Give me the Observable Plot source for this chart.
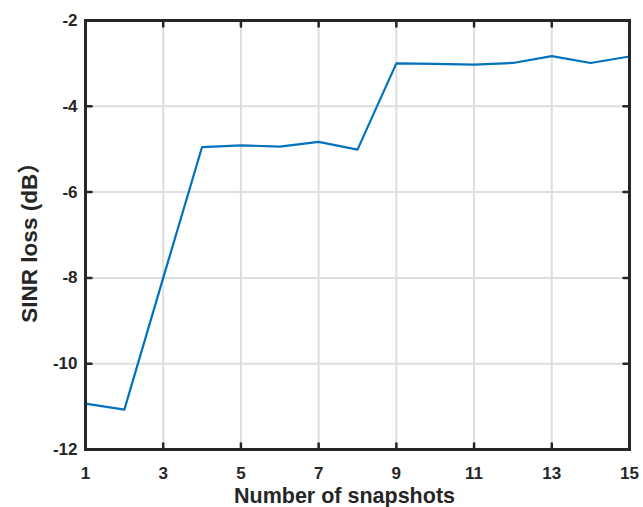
<!DOCTYPE html>
<html>
<head>
<meta charset="utf-8">
<script src="https://cdn.jsdelivr.net/npm/d3@7"></script>
<script src="https://cdn.jsdelivr.net/npm/@observablehq/plot@0.6"></script>
<style>
  html, body { margin: 0; padding: 0; background: #fff; }
</style>
</head>
<body>
<div id="chart"></div>
<script>
const snapshots = [1, 2, 3, 4, 5, 6, 7, 8, 9, 10, 11, 12, 13, 14, 15];
const sinrLoss = [-10.93, -11.07, -8.0, -4.95, -4.91, -4.94, -4.83, -5.01, -3.0, -3.01, -3.03, -2.99, -2.83, -2.99, -2.84];
const xTicks = [1, 3, 5, 7, 9, 11, 13, 15];
const yTicks = [-12, -10, -8, -6, -4, -2];
const xLabel = "Number of snapshots";
const yLabel = "SINR loss (dB）";

const data = snapshots.map((s, i) => ({ s, v: sinrLoss[i] }));
const ink = "#262626";
const font = "'Liberation Sans', Arial, 'Noto Sans CJK SC', sans-serif";
const fmt = d => String(d);
const stub = { draw(context, l) { context.moveTo(0, 0); context.lineTo(0, -l); } };
const tickStyle = { length: 6, anchor: "start", shape: stub, stroke: ink, strokeWidth: 2.5 };

const chart = Plot.plot({
  width: 643,
  height: 507,
  marginLeft: 85,
  marginRight: 14,
  marginTop: 20,
  marginBottom: 58,
  x: { domain: [1, 15] },
  y: { domain: [-12, -2] },
  style: { fontFamily: font, fontWeight: "bold", fontSize: "17px", color: ink, background: "#fff" },
  marks: [
    Plot.gridX(xTicks, { stroke: "#dedede", strokeOpacity: 1, strokeWidth: 2 }),
    Plot.gridY(yTicks, { stroke: "#dedede", strokeOpacity: 1, strokeWidth: 2 }),
    Plot.line(data, { x: "s", y: "v", stroke: "#0072BD", strokeWidth: 2.2 }),
    Plot.axisX(xTicks, { anchor: "bottom", tickSize: 0, tickPadding: 17, tickFormat: fmt, label: null, fontSize: 17, fontWeight: "bold", fill: ink }),
    Plot.axisY(yTicks, { anchor: "left", tickSize: 0, tickPadding: 8, tickFormat: fmt, label: null, fontSize: 17, fontWeight: "bold", fill: ink }),
    Plot.vector(xTicks, { x: d => d, frameAnchor: "bottom", rotate: 0, ...tickStyle }),
    Plot.vector(xTicks, { x: d => d, frameAnchor: "top", rotate: 180, ...tickStyle }),
    Plot.vector(yTicks, { y: d => d, frameAnchor: "left", rotate: 90, ...tickStyle }),
    Plot.vector(yTicks, { y: d => d, frameAnchor: "right", rotate: -90, ...tickStyle }),
    Plot.frame({ stroke: ink, strokeWidth: 3 }),
    Plot.text([xLabel], { frameAnchor: "bottom", textAnchor: "middle", dx: -13, dy: 53, fontSize: 21.5, fontWeight: "bold", fill: ink, fontFamily: font }),
    Plot.text([yLabel], { frameAnchor: "left", textAnchor: "middle", rotate: -90, dx: -56, dy: 2, fontSize: 22.5, fontWeight: "bold", fill: ink, fontFamily: font })
  ]
});
document.getElementById("chart").appendChild(chart);
</script>
</body>
</html>
